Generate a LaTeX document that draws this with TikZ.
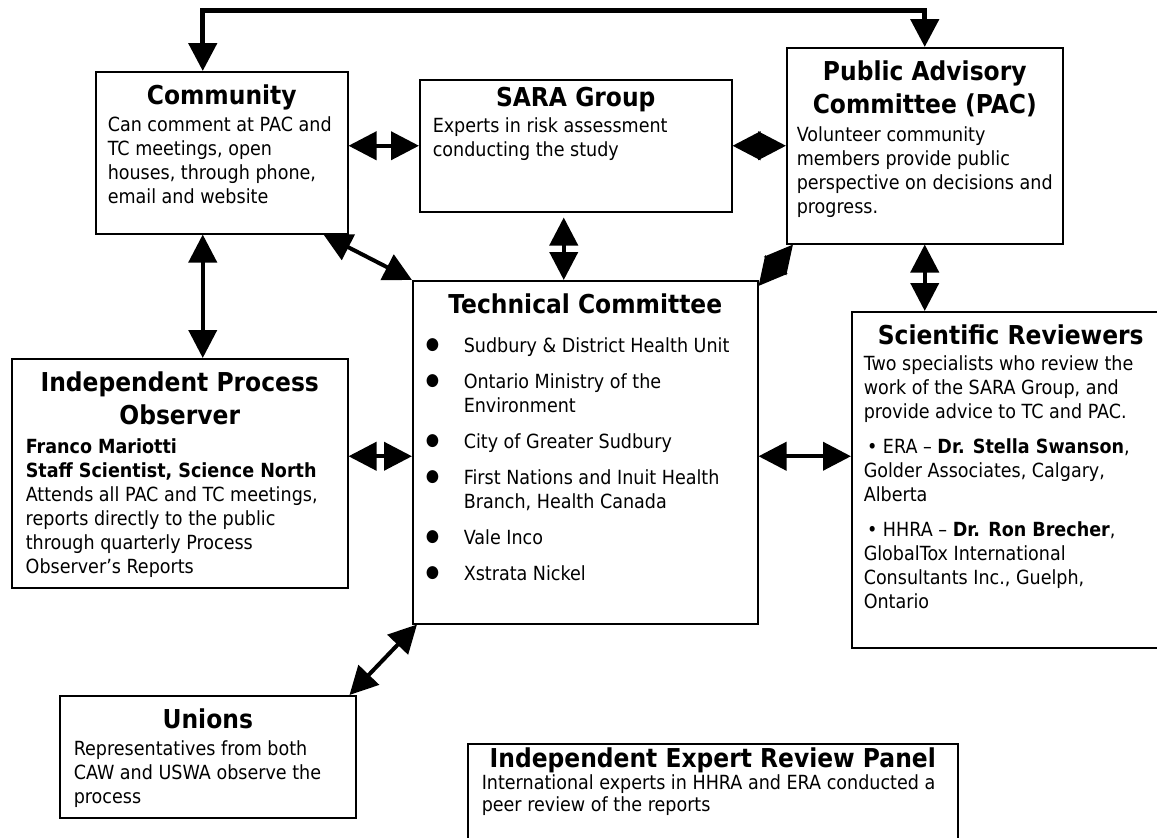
\documentclass[tikz,border=0pt]{standalone}
\usepackage{fontspec}
\setmainfont{DejaVu Sans}[FakeStretch=0.9]
\usepackage{tikz}
\usetikzlibrary{arrows.meta}

\newcommand\panelheadfont{\fontsize{26}{33}\selectfont\bfseries}
\newcommand\paneltextfont{\fontsize{19.5}{24}\selectfont}
\newcommand\panelhead[2][33pt]{{\centering\panelheadfont\rule{0pt}{#1}#2\par}}
\newcommand\tcitem[1]{\par\vspace{12pt}\hangindent=41pt\hangafter=1
    \noindent\makebox[41pt][l]{\hspace{3pt}\raisebox{3pt}{\fontsize{17}{17}\selectfont ●}}#1}

\begin{document}
\begin{tikzpicture}[x=1pt, y=-1pt,
        panel/.style={draw, line width=1.5pt, anchor=north west, inner ysep=0pt, inner xsep=#1},
        panel/.default=12pt,
        twoway/.style={line width=4pt, {Triangle[length=28pt,width=28pt]}-{Triangle[length=28pt,width=28pt]}}]
    \fill[white] (0,0) rectangle (1157,838);
    \useasboundingbox (0,0) rectangle (1157,838);
    \coordinate (topbar) at (0,10);

    % top row
    \node[panel] (comm) at (95,71) {\parbox[t][162pt][t]{228pt}{\paneltextfont
        \panelhead{Community}\vspace{3pt}
        \raggedright Can comment at PAC and\\ TC meetings, open\\ houses, through phone,\\ email and website}};
    \node[panel=13pt] (sara) at (419,79) {\parbox[t][132pt][t]{286pt}{\paneltextfont
        \panelhead[27pt]{SARA Group}\vspace{2pt}
        \raggedright Experts in risk assessment\\ conducting the study}};
    \node[panel=10pt] (pac) at (786,47) {\parbox[t][196pt][t]{256pt}{\paneltextfont
        \panelhead{Public Advisory\\ Committee (PAC)}\vspace{4pt}
        \raggedright Volunteer community\\ members provide public\\ \mbox{perspective on decisions and}\\ progress.}};

    % middle row
    \node[panel=10pt] (tc) at (412,280) {\parbox[t][343pt][t]{325pt}{\paneltextfont
        \panelhead{Technical Committee}\vspace{3pt}
        \tcitem{Sudbury \& District Health Unit}
        \tcitem{Ontario Ministry of the\newline Environment}
        \tcitem{City of Greater Sudbury}
        \tcitem{First Nations and Inuit Health\newline Branch, Health Canada}
        \tcitem{Vale Inco}
        \tcitem{Xstrata Nickel}}};
    \node[panel=14pt] (ipo) at (11,358) {\parbox[t][229pt][t]{308pt}{\paneltextfont
        \panelhead{Independent Process\\ Observer}\vspace{5pt}
        \raggedright\textbf{Franco Mariotti}\\ \textbf{Staff Scientist, Science North}\\
        Attends all PAC and TC meetings,\\ reports directly to the public\\
        through quarterly Process\\ Observer’s Reports}};
    \node[panel] (sr) at (851,311) {\parbox[t][336pt][t]{294pt}{\paneltextfont
        \panelhead{Scientific Reviewers}\vspace{2pt}
        \raggedright Two specialists who review the\\ work of the SARA Group, and\\ provide advice to TC and PAC.\par
        \vspace{11pt}\,\textbullet\ ERA – \textbf{Dr. Stella Swanson},\\ Golder Associates, Calgary,\\ Alberta\par
        \vspace{11pt}\,\textbullet\ HHRA – \textbf{Dr. Ron Brecher},\\ GlobalTox International\\ Consultants Inc., Guelph,\\ Ontario}};

    % bottom row
    \node[panel=14pt] (unions) at (59,695) {\parbox[t][122pt][t]{268pt}{\paneltextfont
        \panelhead{Unions}\vspace{3pt}
        \raggedright Representatives from both\\ CAW and USWA observe the\\ process}};
    \node[panel=14pt] (iep) at (467,743) {\parbox[t][120pt][t]{462pt}{\fontsize{19.5}{22}\selectfont
        \panelhead[24pt]{Independent Expert Review Panel}
        \raggedright International experts in HHRA and ERA conducted a\\ peer review of the reports}};

    % links
    \draw[twoway, line width=5pt] ([xshift=-19pt]comm.north) -- ([xshift=-19pt]comm.north |- topbar) -| (pac.north);
    \draw[twoway] (sara.west) -- (sara.west -| comm.east);
    \draw[twoway] (sara.east) -- (sara.east -| pac.west);
    \draw[twoway, shorten <=5pt] ([xshift=-12pt]sara.south) -- ([xshift=-12pt]sara.south |- tc.north);
    \draw[twoway] ([xshift=-25pt]comm.south east) -- (tc.north west);
    \draw[twoway] ([xshift=7pt]pac.south west) -- ([yshift=-6pt]tc.north east);
    \draw[twoway] ([xshift=-19pt]comm.south) -- ([xshift=-19pt]comm.south |- ipo.north);
    \draw[twoway] ([yshift=-4pt]tc.west) -- ([yshift=-4pt]tc.west -| ipo.east);
    \draw[twoway] ([yshift=-4pt]tc.east) -- ([yshift=-4pt]tc.east -| sr.west);
    \draw[twoway] (pac.south) -- (pac.south |- sr.north);
    \draw[twoway] ([xshift=5pt]tc.south west) -- ([xshift=-7pt]unions.north east);
\end{tikzpicture}
\end{document}
